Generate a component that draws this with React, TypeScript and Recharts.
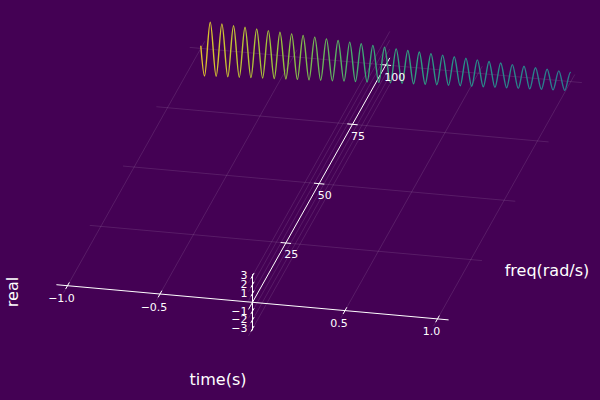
import { ComposedChart, Line, Scatter, XAxis, YAxis } from "recharts";

// axis ticks
const timeTicks = [-1, -0.5, 0.5, 1];
const timeTickLabels = ["−1.0", "−0.5", "0.5", "1.0"];
const freqTicks = [25, 50, 75, 100];
const freqTickLabels = ["25", "50", "75", "100"];
const realTicks = [-3, -2, -1, 1, 2, 3];
const realTickLabels = ["−3", "−2", "−1", "1", "2", "3"];

// axis extents
const timeRange = [-1.06, 1.06];
const freqRange = [-3, 103];
const realRange = [-3.18, 3.18];

// the signal sits at a single frequency
const signalFreq = 100;

// extrema of the trace
const waveTime = [
  -1.0, -0.98, -0.949, -0.917, -0.886, -0.854, -0.823, -0.792, -0.761, -0.729, -0.698,
  -0.666, -0.635, -0.603, -0.572, -0.54, -0.509, -0.478, -0.447, -0.415, -0.384,
  -0.352, -0.321, -0.289, -0.258, -0.226, -0.195, -0.164, -0.133, -0.101, -0.07,
  -0.038, -0.007, 0.025, 0.056, 0.088, 0.119, 0.15, 0.181, 0.213, 0.244,
  0.276, 0.307, 0.339, 0.37, 0.402, 0.433, 0.464, 0.495, 0.527, 0.558,
  0.59, 0.621, 0.653, 0.684, 0.716, 0.747, 0.778, 0.809, 0.841, 0.872,
  0.904, 0.935, 0.967, 0.998, 1.0,
];
const waveReal = [
  0.3, -3.08, 3.05, -3.0, 2.98, -2.94, 2.9, -2.87, 2.84, -2.8, 2.77,
  -2.73, 2.7, -2.67, 2.63, -2.6, 2.57, -2.53, 2.5, -2.46, 2.43,
  -2.39, 2.36, -2.32, 2.29, -2.25, 2.22, -2.18, 2.15, -2.11, 2.08,
  -2.04, 2.0, -1.97, 1.93, -1.9, 1.87, -1.84, 1.81, -1.78, 1.75,
  -1.72, 1.69, -1.66, 1.63, -1.6, 1.57, -1.54, 1.51, -1.48, 1.45,
  -1.42, 1.39, -1.36, 1.33, -1.3, 1.27, -1.24, 1.21, -1.18, 1.15,
  -1.12, 1.09, -1.06, 1.03, 1.02,
];

const W = 600;
const H = 400;
const BG = "#440154";
const GRID = "rgba(255,255,255,0.11)";
const FONT = "DejaVu Sans, sans-serif";

// orthographic view: screen offset per unit of time, freq and real
const view = { ox: 252.5, oy: 302.3, tx: 185, ty: 16.6, fx: 1.333, fy: -2.373, zy: -8.83 };

function project(t: number, f: number, z: number) {
  return {
    x: view.ox + t * view.tx + f * view.fx,
    y: view.oy + t * view.ty + f * view.fy + z * view.zy,
  };
}

type Pt = { x: number; y: number };
const seg = (a: number[], b: number[]): Pt[] => [project(a[0], a[1], a[2]), project(b[0], b[1], b[2])];

const gridSegs: Pt[][] = [
  ...freqTicks.map((f) => seg([timeRange[0], f, 0], [timeRange[1], f, 0])),
  ...timeTicks.map((t) => seg([t, freqRange[0], 0], [t, freqRange[1], 0])),
  ...realTicks.map((z) => seg([0, freqRange[0], z], [0, freqRange[1], z])),
];

const axisSegs: Pt[][] = [
  seg([timeRange[0], 0, 0], [timeRange[1], 0, 0]),
  seg([0, freqRange[0], 0], [0, freqRange[1], 0]),
  seg([0, 0, realRange[0]], [0, 0, realRange[1]]),
];

const tickSegs: Pt[][] = [
  ...timeTicks.map((t) => seg([t, -1.4, 0], [t, 1.4, 0])),
  ...freqTicks.map((f) => seg([-0.028, f, 0], [0.028, f, 0])),
  ...realTicks.map((z) => seg([0, -1.2, z], [0, 1.2, z])),
];

const wave = waveTime.map((t, i) => project(t, signalFreq, waveReal[i]));

const timeLabels = timeTicks.map((t, i) => ({ ...project(t, 0, 0), label: timeTickLabels[i] }));
const freqLabels = freqTicks.map((f, i) => ({ ...project(0, f, 0), label: freqTickLabels[i] }));
const realLabels = realTicks.map((z, i) => ({ ...project(0, 0, z), label: realTickLabels[i] }));

const titles = [
  { x: 218, y: 379, label: "time(s)", rotate: 0 },
  { x: 547, y: 270, label: "freq(rad/s)", rotate: 0 },
  { x: 12, y: 292, label: "real", rotate: -90 },
];

function tickText(anchor: string, dx: number, dy: number) {
  return (p: any) => (
    <text
      x={p.cx + dx}
      y={p.cy + dy}
      textAnchor={anchor}
      dominantBaseline="central"
      fill="#ffffff"
      fontSize={11}
      fontFamily={FONT}
    >
      {p.payload.label}
    </text>
  );
}

function titleText(p: any) {
  return (
    <text
      x={p.cx}
      y={p.cy}
      textAnchor="middle"
      dominantBaseline="central"
      fill="#ffffff"
      fontSize={16}
      fontFamily={FONT}
      transform={p.payload.rotate ? `rotate(${p.payload.rotate}, ${p.cx}, ${p.cy})` : undefined}
    >
      {p.payload.label}
    </text>
  );
}

export default function App() {
  return (
    <div style={{ position: "absolute", left: 0, top: 0, width: W, height: H, background: BG }}>
      <ComposedChart width={W} height={H} margin={{ top: 0, right: 0, bottom: 0, left: 0 }}>
        <defs>
          <linearGradient id="waveGrad" x1="0" y1="0" x2="1" y2="0">
            <stop offset="0%" stopColor="#e2c22c" />
            <stop offset="22%" stopColor="#98c23e" />
            <stop offset="45%" stopColor="#3aa878" />
            <stop offset="70%" stopColor="#26918a" />
            <stop offset="100%" stopColor="#2b7a8e" />
          </linearGradient>
        </defs>
        <XAxis type="number" dataKey="x" domain={[0, W]} allowDataOverflow hide />
        <YAxis type="number" dataKey="y" domain={[0, H]} allowDataOverflow reversed hide />
        {gridSegs.map((d, i) => (
          <Line
            key={`g${i}`}
            data={d}
            dataKey="y"
            type="linear"
            stroke={GRID}
            strokeWidth={1}
            dot={false}
            activeDot={false}
            isAnimationActive={false}
          />
        ))}
        {axisSegs.map((d, i) => (
          <Line
            key={`a${i}`}
            data={d}
            dataKey="y"
            type="linear"
            stroke="#ffffff"
            strokeWidth={1}
            dot={false}
            activeDot={false}
            isAnimationActive={false}
          />
        ))}
        {tickSegs.map((d, i) => (
          <Line
            key={`t${i}`}
            data={d}
            dataKey="y"
            type="linear"
            stroke="#ffffff"
            strokeWidth={1}
            dot={false}
            activeDot={false}
            isAnimationActive={false}
          />
        ))}
        <Line
          data={wave}
          dataKey="y"
          type="monotoneX"
          stroke="url(#waveGrad)"
          strokeWidth={1.4}
          dot={false}
          activeDot={false}
          isAnimationActive={false}
        />
        <Scatter data={timeLabels} shape={tickText("middle", -6, 13)} isAnimationActive={false} />
        <Scatter data={freqLabels} shape={tickText("start", -1.5, 12)} isAnimationActive={false} />
        <Scatter data={realLabels} shape={tickText("end", -5, 0)} isAnimationActive={false} />
        <Scatter data={titles} shape={titleText} isAnimationActive={false} />
      </ComposedChart>
    </div>
  );
}
